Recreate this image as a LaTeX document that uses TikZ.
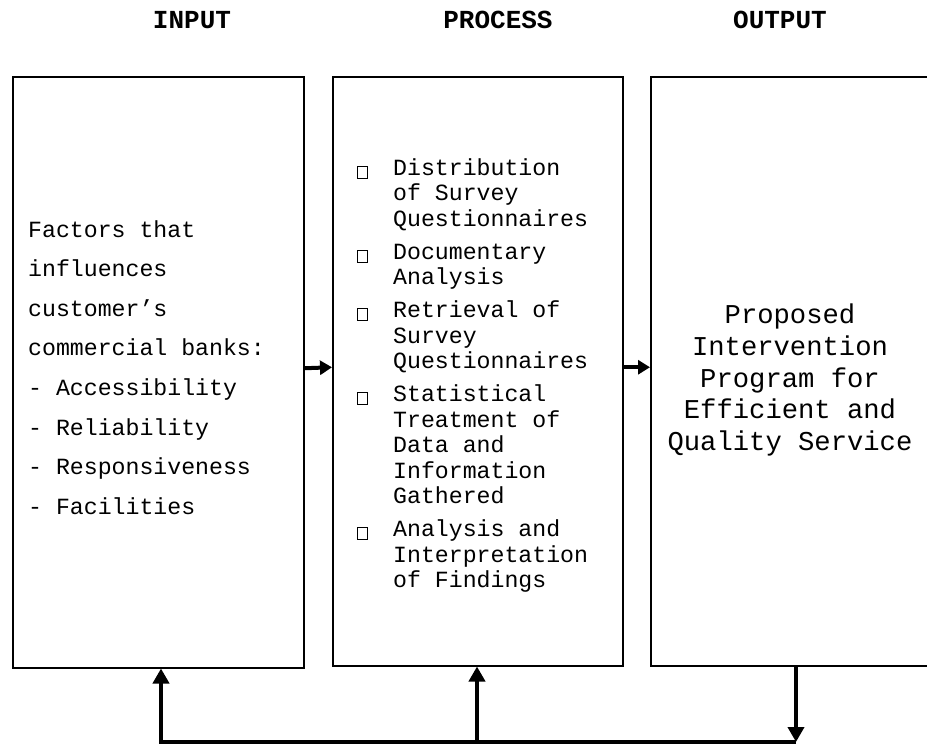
\documentclass[tikz,border=0pt]{standalone}
\usepackage{fontspec}
\setmonofont{Liberation Mono}
\usetikzlibrary{positioning,arrows.meta}

\newcommand{\hollowbox}{\raisebox{-2.5pt}{\setlength{\fboxrule}{1pt}\setlength{\fboxsep}{0pt}\fbox{\rule{0pt}{11pt}\hspace{9pt}}}}
\newcommand{\bitem}{\makebox[36pt][l]{\hollowbox}}
\newcommand{\bcont}{\hspace*{36pt}}

\begin{document}
\begin{tikzpicture}[x=1pt,y=-1pt,
stage/.style={draw, line width=1.5pt, inner sep=0pt, minimum width=291pt, minimum height=591pt},
heading/.style={font=\ttfamily\bfseries\fontsize{26}{30}\selectfont, anchor=base, inner sep=0pt},
intext/.style={font=\ttfamily\fontsize{23.2}{39.6}\selectfont, align=left, inner sep=0pt},
proctext/.style={font=\ttfamily\fontsize{23.2}{25.5}\selectfont, align=left, inner sep=0pt},
outtext/.style={font=\ttfamily\fontsize{27.2}{31.6}\selectfont, align=center, inner sep=0pt},
flow/.style={line width=4pt, -{Triangle[width=14pt,length=12pt]}},
feedback/.style={line width=4pt, -{Triangle[width=16pt,length=15pt]}}
]
\useasboundingbox (0,0) rectangle (927,744);

\node[heading] (hin) at (192,28) {INPUT};
\node[heading] (hproc) at (498,28) {PROCESS};
\node[heading] (hout) at (780,28) {OUTPUT};

\node[stage, anchor=north west] (inbox) at (12,76) {};
\node[stage, minimum width=290pt, minimum height=589pt, right=27.5pt of inbox.north east, anchor=north west] (procbox) {};
\node[stage, minimum width=300pt, minimum height=589pt, right=26.5pt of procbox.north east, anchor=north west] (outbox) {};

\node[intext, anchor=north west] (factors) at (28,220) {Factors that\\influences\\customer’s\\commercial banks:\\- Accessibility\\- Reliability\\- Responsiveness\\- Facilities};

\node[proctext, anchor=north west] (steps) at (357,158) {\bitem Distribution\\ \bcont of Survey\\ \bcont Questionnaires\\[7.5pt]
\bitem Documentary\\ \bcont Analysis\\[7.5pt]
\bitem Retrieval of\\ \bcont Survey\\ \bcont Questionnaires\\[7.5pt]
\bitem Statistical\\ \bcont Treatment of\\ \bcont Data and\\ \bcont Information\\ \bcont Gathered\\[7.5pt]
\bitem Analysis and\\ \bcont Interpretation\\ \bcont of Findings};

\node[outtext] (program) at (790,380) {Proposed\\Intervention\\Program for\\Efficient and\\Quality Service};

% arrows between the stages
\draw[flow] ([yshift=4pt]inbox.east) -- ([yshift=4pt]procbox.west);
\draw[flow] ([yshift=4pt]procbox.east) -- ([yshift=4pt]outbox.west);

% feedback loop
\coordinate (fbL) at (161,742);
\coordinate (fbM) at (477,742);
\coordinate (fbR) at (796,742);
\draw[feedback] (outbox.south -| fbR) -- (fbR);
\draw[feedback] (fbR) -- (fbL) -- (fbL |- inbox.south);
\draw[feedback] (fbM) -- (fbM |- procbox.south);
\end{tikzpicture}
\end{document}
